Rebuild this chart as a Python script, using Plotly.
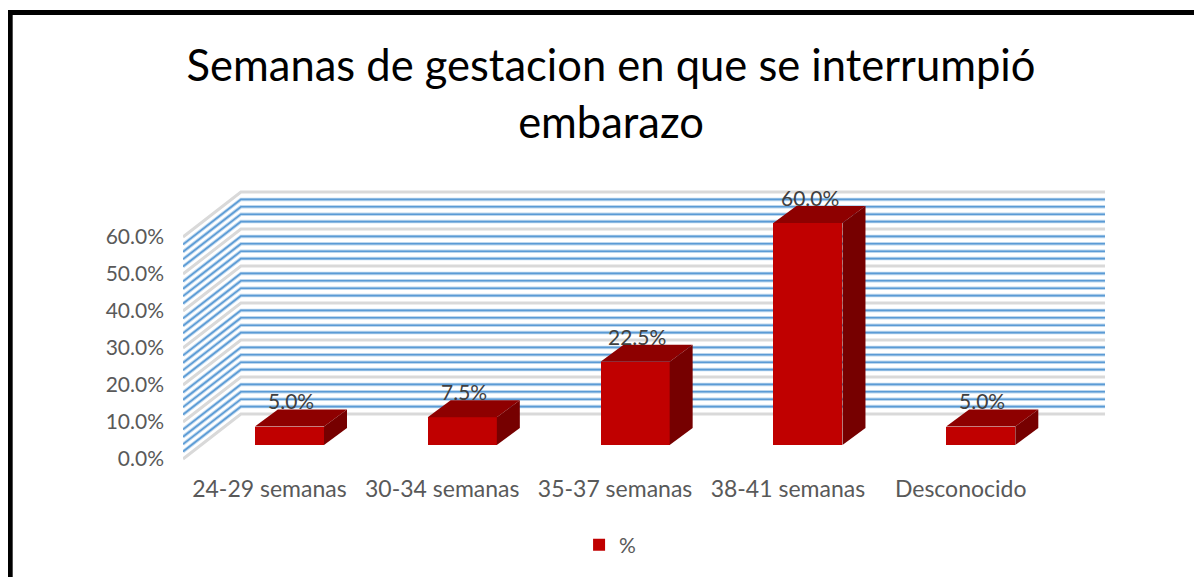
import plotly.graph_objects as go

categories = ["24-29 semanas", "30-34 semanas", "35-37 semanas", "38-41 semanas", "Desconocido"]
values = [5.0, 7.5, 22.5, 60.0, 5.0]
y_ticks = [0, 10, 20, 30, 40, 50, 60]
y_tick_text = ["{:.1f}%".format(t) for t in y_ticks]
series_name = "%"

# pseudo-3D geometry (in data units)
WALL_DX, WALL_DY = 0.335, 12.16     # depth shift of the back wall
BAR_OFF_X, BAR_OFF_Y = 0.116, 3.78  # bar front face position inside the floor
BAR_W = 0.4
BAR_DX, BAR_DY = 0.133, 4.6         # bar depth
X0, X1 = -0.5, 4.5
Y_MAX = 60

fig = go.Figure()

# gridlines (walls) as shapes below the traces
shapes = []
for v in range(0, Y_MAX + 1, 2):
    major = (v % 10 == 0)
    path = "M {:.4f},{:.4f} L {:.4f},{:.4f} L {:.4f},{:.4f}".format(
        X0, v, X0 + WALL_DX, v + WALL_DY, X1 + WALL_DX, v + WALL_DY)
    if major:
        shapes.append(dict(type="path", path=path, xref="x", yref="y", layer="below",
                           line=dict(color="#D9D9D9", width=3)))
    else:
        shapes.append(dict(type="path", path=path, xref="x", yref="y", layer="below",
                           line=dict(color="#BDD7EE", width=3.5)))
        shapes.append(dict(type="path", path=path, xref="x", yref="y", layer="below",
                           line=dict(color="#5B9BD5", width=1.6)))

# front faces of the bars
xs = [i + BAR_OFF_X for i in range(len(categories))]
fig.add_trace(go.Bar(x=xs, y=values, base=[BAR_OFF_Y] * len(values), width=BAR_W,
                     marker=dict(color="#C00000", line=dict(width=0)),
                     name=series_name, showlegend=True, hoverinfo="skip"))

# top and side faces
for xc, v in zip(xs, values):
    xl, xr = xc - BAR_W / 2, xc + BAR_W / 2
    yb, yt = BAR_OFF_Y, BAR_OFF_Y + v
    fig.add_trace(go.Scatter(
        x=[xl, xl + BAR_DX, xr + BAR_DX, xr, xl],
        y=[yt, yt + BAR_DY, yt + BAR_DY, yt, yt],
        fill="toself", fillcolor="#8E0000", mode="lines", line=dict(width=0, color="#8E0000"),
        showlegend=False, hoverinfo="skip"))
    fig.add_trace(go.Scatter(
        x=[xr, xr, xr + BAR_DX, xr + BAR_DX, xr],
        y=[yb, yt, yt + BAR_DY, yb + BAR_DY, yb],
        fill="toself", fillcolor="#760000", mode="lines", line=dict(width=0, color="#760000"),
        showlegend=False, hoverinfo="skip"))

# data labels
annotations = []
for xc, v in zip(xs, values):
    annotations.append(dict(x=xc + 0.01, y=BAR_OFF_Y + v + BAR_DY, xref="x", yref="y",
                            text="{:.1f}%".format(v), showarrow=False,
                            xanchor="center", yanchor="bottom", yshift=-6,
                            font=dict(family="Lato", size=21, color="#404040")))

# layout in page pixels (page has an 8px body margin)
OFF = 8
L, R, T, B = 182.5 - OFF, 1105.5 - OFF, 180 - OFF, 470 - OFF
Y0PX = 459 - OFF
PX_PER_UNIT_Y = 3.7
def px_x(p):
    return (p - OFF - L) / (R - L)
def px_y(p):
    return (B - (p - OFF)) / (B - T)
shapes.append(dict(type="rect", xref="paper", yref="paper",
                   x0=px_x(9.5), x1=px_x(1240), y0=px_y(12.5), y1=px_y(610),
                   line=dict(color="black", width=5), fillcolor="rgba(0,0,0,0)", layer="above"))

fig.update_layout(
    width=1202, height=577,
    margin=dict(l=L, r=1202 - R, t=T, b=577 - B),
    paper_bgcolor="white", plot_bgcolor="white",
    title=dict(text="Semanas de gestacion en que se interrumpió<br>embarazo",
               x=(611 - OFF) / 1202, xanchor="center", xref="container",
               y=1 - 73 / 577, yanchor="top", yref="container",
               font=dict(family="Lato", size=43.5, color="black")),
    xaxis=dict(range=[X0, X1 + WALL_DX], tickvals=list(range(len(categories))), ticktext=categories,
               showgrid=False, zeroline=False, showline=False, ticks="",
               tickfont=dict(family="Lato", size=23, color="#595959"), ticklabelstandoff=3),
    yaxis=dict(range=[(Y0PX - B) / PX_PER_UNIT_Y, (Y0PX - T) / PX_PER_UNIT_Y],
               tickvals=y_ticks, ticktext=y_tick_text,
               showgrid=False, zeroline=False, showline=False, ticks="",
               tickfont=dict(family="Lato", size=21, color="#595959"), ticklabelstandoff=18),
    showlegend=True,
    legend=dict(orientation="h", x=px_x(579), xanchor="left", y=px_y(545), yanchor="middle",
                font=dict(family="Lato", size=21, color="#595959"), bgcolor="rgba(0,0,0,0)"),
    shapes=shapes,
    annotations=annotations,
    bargap=0,
)

fig.write_html("out.html")
